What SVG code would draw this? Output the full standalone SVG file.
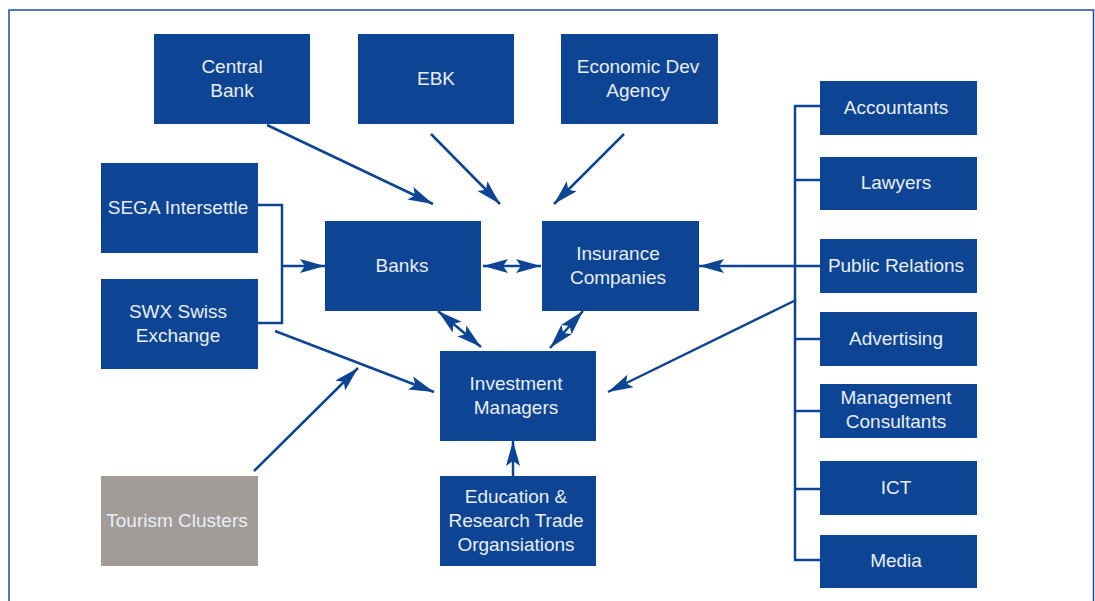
<svg xmlns="http://www.w3.org/2000/svg" width="1095" height="601" viewBox="0 0 1095 601">
  <style>
    .box { fill: #0d4494; }
    .grey { fill: #a19c98; }
    .lbl { font-family: "Liberation Sans", Arial, sans-serif; font-size: 19px; fill: #e9eef7; text-anchor: middle; }
    .con { stroke: #0d4494; stroke-width: 2.5; fill: none; }
    .arr { marker-end: url(#ah); }
    .both { marker-start: url(#ah); marker-end: url(#ah); }
    .frame { stroke: #1f4c9e; stroke-width: 1.5; fill: none; }
  </style>
  <defs>
    <marker id="ah" markerUnits="userSpaceOnUse" markerWidth="26" markerHeight="16" refX="25" refY="8" orient="auto-start-reverse" viewBox="0 0 26 16">
      <path d="M25,8 L0,1 L5,8 L0,15 Z" fill="#0d4494"/>
    </marker>
  </defs>

  <rect width="1095" height="601" fill="#ffffff"/>
  <path class="frame" d="M9,601 V10 H1093.5 V601"/>

  <g id="connectors">
    <!-- regulators into the banking core -->
    <line class="con arr" x1="267" y1="125" x2="433" y2="204"/>
    <line class="con arr" x1="431" y1="134" x2="500" y2="204"/>
    <line class="con arr" x1="624" y1="134" x2="554" y2="204"/>
    <!-- exchange bracket into Banks -->
    <path class="con" d="M258,205 H282 V323 H258"/>
    <line class="con arr" x1="282" y1="266" x2="325" y2="266"/>
    <!-- core relationships -->
    <line class="con both" x1="483" y1="266" x2="541" y2="266"/>
    <line class="con both" x1="438" y1="311" x2="481" y2="347"/>
    <line class="con both" x1="583" y1="311" x2="550" y2="348"/>
    <!-- left side feeds -->
    <line class="con arr" x1="275" y1="331" x2="434" y2="392"/>
    <line class="con arr" x1="254" y1="471" x2="358" y2="368"/>
    <!-- education into investment managers -->
    <line class="con arr" x1="513" y1="476" x2="513" y2="441"/>
    <!-- service provider spine -->
    <path class="con" d="M820,106 H795 V560 H820"/>
    <line class="con" x1="795" y1="180" x2="820" y2="180"/>
    <line class="con" x1="795" y1="339" x2="820" y2="339"/>
    <line class="con" x1="795" y1="411" x2="820" y2="411"/>
    <line class="con" x1="795" y1="489" x2="820" y2="489"/>
    <line class="con arr" x1="820" y1="266" x2="699" y2="266"/>
    <line class="con arr" x1="796" y1="300" x2="608" y2="392"/>
  </g>

  <g id="central-bank"><rect class="box" x="154" y="34" width="156" height="90"/><text class="lbl" x="232" y="73">Central</text><text class="lbl" x="232" y="97">Bank</text></g>
  <g id="ebk"><rect class="box" x="358" y="34" width="156" height="90"/><text class="lbl" x="436" y="85">EBK</text></g>
  <g id="economic-dev-agency"><rect class="box" x="561" y="34" width="157" height="90"/><text class="lbl" x="638" y="73">Economic Dev</text><text class="lbl" x="638" y="97">Agency</text></g>

  <g id="sega-intersettle"><rect class="box" x="101" y="163" width="157" height="90"/><text class="lbl" x="178" y="214">SEGA Intersettle</text></g>
  <g id="swx-swiss-exchange"><rect class="box" x="101" y="279" width="157" height="90"/><text class="lbl" x="178" y="318">SWX Swiss</text><text class="lbl" x="178" y="342">Exchange</text></g>

  <g id="banks"><rect class="box" x="325" y="221" width="156" height="90"/><text class="lbl" x="402" y="272">Banks</text></g>
  <g id="insurance-companies"><rect class="box" x="542" y="221" width="157" height="90"/><text class="lbl" x="618" y="260">Insurance</text><text class="lbl" x="618" y="284">Companies</text></g>
  <g id="investment-managers"><rect class="box" x="440" y="351" width="156" height="90"/><text class="lbl" x="516" y="390">Investment</text><text class="lbl" x="516" y="414">Managers</text></g>
  <g id="education-research"><rect class="box" x="440" y="476" width="156" height="90"/><text class="lbl" x="516" y="503">Education &amp;</text><text class="lbl" x="516" y="527">Research Trade</text><text class="lbl" x="516" y="551">Organsiations</text></g>
  <g id="tourism-clusters"><rect class="grey" x="101" y="476" width="157" height="90"/><text class="lbl" x="177" y="527">Tourism Clusters</text></g>

  <g id="accountants"><rect class="box" x="820" y="81" width="157" height="54"/><text class="lbl" x="896" y="114">Accountants</text></g>
  <g id="lawyers"><rect class="box" x="820" y="157" width="157" height="53"/><text class="lbl" x="896" y="189">Lawyers</text></g>
  <g id="public-relations"><rect class="box" x="820" y="239" width="157" height="54"/><text class="lbl" x="896" y="272">Public Relations</text></g>
  <g id="advertising"><rect class="box" x="820" y="312" width="157" height="54"/><text class="lbl" x="896" y="345">Advertising</text></g>
  <g id="management-consultants"><rect class="box" x="820" y="384" width="157" height="54"/><text class="lbl" x="896" y="404">Management</text><text class="lbl" x="896" y="428">Consultants</text></g>
  <g id="ict"><rect class="box" x="820" y="461" width="157" height="54"/><text class="lbl" x="896" y="494">ICT</text></g>
  <g id="media"><rect class="box" x="820" y="535" width="157" height="53"/><text class="lbl" x="896" y="567">Media</text></g>
</svg>
